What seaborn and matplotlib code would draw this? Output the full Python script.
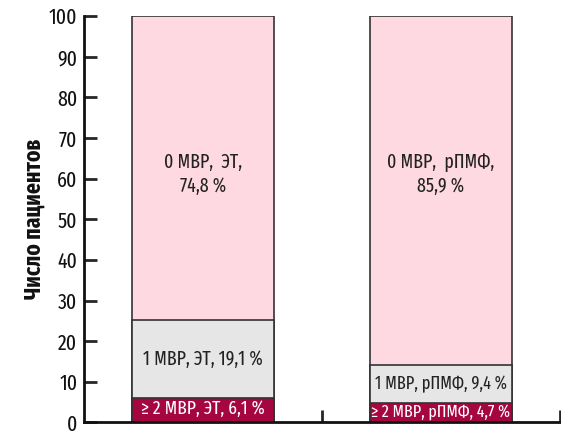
import matplotlib
matplotlib.use("Agg")
import matplotlib.pyplot as plt
import seaborn as sns
import pandas as pd
import numpy as np

groups = ["ЭТ", "рПМФ"]
zero_mvr = [74.8, 85.9]
one_mvr = [19.1, 9.4]
two_plus_mvr = [6.1, 4.7]

sns.set_style("ticks")
plt.rcParams["font.family"] = ["Fira Sans Extra Condensed", "PT Sans Narrow", "DejaVu Sans"]

fig = plt.figure(figsize=(5.61, 4.32), dpi=100)
ax = fig.add_axes([0.15, 0.022, 0.848, 0.941])

red = np.array(two_plus_mvr)
gray_top = red + np.array(one_mvr)
pink_top = gray_top + np.array(zero_mvr)

# stacked bars drawn as overlapping cumulative totals
layers = [
    (pink_top, "#FFD9E2"),
    (gray_top, "#E6E6E6"),
    (red, "#A6063F"),
]
for tops, color in layers:
    df = pd.DataFrame({"group": groups, "value": tops})
    sns.barplot(data=df, x="group", y="value", color=color, width=0.6,
                edgecolor="#333333", linewidth=1.2, saturation=1, ax=ax)


def pct(v):
    return f"{v:.1f}".replace(".", ",") + " %"


label_sizes = [14, 12.8]
for i, g in enumerate(groups):
    fs = label_sizes[i]
    ax.text(i, 61, f"0 МВР,  {g},\n{pct(zero_mvr[i])}",
            ha="center", va="center", fontsize=14, color="#222222",
            linespacing=1.3)
    ax.text(i, red[i] + one_mvr[i] / 2, f"1 МВР, {g}, {pct(one_mvr[i])}",
            ha="center", va="center", fontsize=fs, color="#222222")
    ax.text(i, red[i] / 2 + 0.3, f"≥ 2 МВР, {g}, {pct(two_plus_mvr[i])}",
            ha="center", va="center", fontsize=fs - 0.3, color="white")

ax.set_xlim(-0.5, 1.5)
ax.set_ylim(0, 100)
ax.set_yticks(range(0, 101, 10))
ax.set_xticks([0.5, 1.5])
ax.set_xticklabels([])
ax.tick_params(axis="y", direction="in", length=9, width=2, labelsize=15.5, pad=5,
               labelcolor="#111111")
ax.tick_params(axis="x", direction="in", length=9, width=2)
ax.set_xlabel("")
ax.set_ylabel("Число пациентов", fontsize=17, fontweight="bold", labelpad=2,
              color="#111111")
for side in ["top", "right"]:
    ax.spines[side].set_visible(False)
for side in ["left", "bottom"]:
    ax.spines[side].set_linewidth(2)
    ax.spines[side].set_color("#111111")

fig.savefig("out.png", dpi=100)
